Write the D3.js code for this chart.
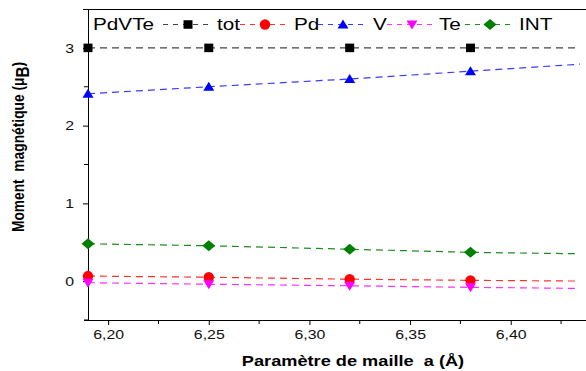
<!DOCTYPE html>
<html><head><meta charset="utf-8">
<script src="https://cdn.jsdelivr.net/npm/d3@7"></script>
<style>body{margin:0;background:#fff}svg{display:block}text{font-family:"Liberation Sans",Arial,sans-serif;white-space:pre}</style>
</head><body>
<svg id="c" width="586" height="371"></svg>
<script>
const latticeA = [6.19, 6.25, 6.32, 6.38, 6.44];
const totVals = [3.0, 3.0, 3.0, 3.0, 3.0];
const pdVals  = [0.065, 0.05, 0.025, 0.01, 0.0];
const vVals   = [2.41, 2.50, 2.60, 2.70, 2.80];
const teVals  = [-0.02, -0.04, -0.06, -0.08, -0.095];
const intVals = [0.48, 0.455, 0.41, 0.37, 0.35];
const seriesNames = ["tot", "Pd", "V", "Te", "INT"];
const xTicks = [6.20, 6.25, 6.30, 6.35, 6.40];
const yTicks = [0, 1, 2, 3];

const diamond = {draw(ctx, size){const w=6.5, h=5.5; ctx.moveTo(0,-h); ctx.lineTo(w,0); ctx.lineTo(0,h); ctx.lineTo(-w,0); ctx.closePath();}};
const triUp = {draw(ctx){const w=5.5, h=9; ctx.moveTo(0,-h*0.55); ctx.lineTo(w,h*0.45); ctx.lineTo(-w,h*0.45); ctx.closePath();}};
const triDown = {draw(ctx){const w=5.5, h=9; ctx.moveTo(0,h*0.55); ctx.lineTo(w,-h*0.45); ctx.lineTo(-w,-h*0.45); ctx.closePath();}};
const square = {draw(ctx){const s=4.5; ctx.rect(-s,-s*0.95,2*s,2*s*0.95);}};

const series = [
  {name:"tot", vals:totVals, color:"#000", line:"#444", sym:square},
  {name:"Pd", vals:pdVals, color:"#ff0000", line:"#ff3030", sym:d3.symbolCircle, size:85},
  {name:"V", vals:vVals, color:"#0000ff", line:"#3a3aff", sym:triUp},
  {name:"Te", vals:teVals, color:"#ff00ff", line:"#ff30ff", sym:triDown},
  {name:"INT", vals:intVals, color:"#008000", line:"#208a20", sym:diamond}
];

const svg = d3.select("#c");
const L = 88, T = 9, B = 320, R = 586, clipR = 580;
const x = d3.scaleLinear().domain([6.19, 6.19 + (R - L) / 2013]).range([L, R]);
const y = d3.scaleLinear().domain([-0.5, 3.5]).range([B, T]);
const SX = 1.22;

svg.append("defs").append("clipPath").attr("id","clip")
  .append("rect").attr("x", L-8).attr("y", T).attr("width", clipR - L + 8).attr("height", B - T);

// frame top
svg.append("line").attr("x1",L-5).attr("x2",R).attr("y1",T+0.5).attr("y2",T+0.5).attr("stroke","#000");

// x axis
const fmt = d => d.toFixed(2).replace(".", ",");
const xAxis = d3.axisBottom(x).tickValues(xTicks).tickFormat(fmt).tickSize(5).tickPadding(5);
const gx = svg.append("g").attr("transform",`translate(0,${B})`).call(xAxis);
gx.select(".domain").remove();
gx.append("line").attr("x1",L-4).attr("x2",R).attr("y1",0.5).attr("y2",0.5).attr("stroke","#000");
gx.selectAll(".tick text").attr("font-size",13).attr("fill","#111").each(function(){
  const t = d3.select(this); const yy = +t.attr("y");
  t.attr("y", null).attr("dy","0.71em").attr("transform", `translate(0,${yy}) scale(${SX},1)`);
});
const xMinor = [6.225, 6.275, 6.325, 6.375, 6.425];
gx.selectAll(".mn").data(xMinor).enter().append("line").attr("x1",d=>x(d)).attr("x2",d=>x(d)).attr("y1",0).attr("y2",4).attr("stroke","#000");

// y axis
const yAxis = d3.axisLeft(y).tickValues(yTicks).tickFormat(d3.format("d")).tickSize(5).tickPadding(9);
const gy = svg.append("g").attr("transform",`translate(${L},0)`).call(yAxis);
gy.select(".domain").remove();
gy.append("line").attr("x1",0.5).attr("x2",0.5).attr("y1",T).attr("y2",B).attr("stroke","#000");
gy.selectAll(".tick text").attr("font-size",13).attr("fill","#111").each(function(){
  const t = d3.select(this); const xx = +t.attr("x");
  t.attr("x", null).attr("transform", `translate(${xx},0) scale(${SX},1)`);
});
const yMinor = [-0.5, 0.5, 1.5, 2.5];
gy.selectAll(".mn").data(yMinor).enter().append("line").attr("x1",-4).attr("x2",0).attr("y1",d=>y(d)).attr("y2",d=>y(d)).attr("stroke","#000");

// titles
svg.append("text").attr("transform",`translate(353,366) scale(1.3,1)`).attr("text-anchor","middle")
  .attr("font-size",14).attr("font-weight","bold").text("Paramètre de maille  a (Å)");
const yt = svg.append("text").attr("transform","translate(24,147) rotate(-90) scale(1.02,1.23)").attr("text-anchor","middle")
  .attr("font-size",13.5).attr("font-weight","bold");
yt.append("tspan").text("Moment  magnétique (μ");
yt.append("tspan").attr("font-size",15).attr("dy",4).text("B");
yt.append("tspan").attr("dy",-4).text(")");

function symPath(s){ return d3.symbol().type(s.sym).size(s.size || 64)(); }

const plot = svg.append("g").attr("clip-path","url(#clip)");
const line = d3.line().x((d,i)=>x(latticeA[i])).y(d=>y(d));
series.forEach(s => {
  plot.append("path").attr("d", line(s.vals)).attr("fill","none").attr("stroke", s.line)
    .attr("stroke-width",1.2).attr("stroke-dasharray","7,5");
  plot.selectAll(null).data(s.vals).enter().append("path")
    .attr("transform",(d,i)=>`translate(${x(latticeA[i])},${y(d)})`)
    .attr("d", symPath(s)).attr("fill", s.color);
});

// legend
const lg = svg.append("g");
lg.append("text").attr("transform","translate(93,30) scale(1.22,1)").attr("font-size",17).text("PdVTe");
const legX = [163, 240, 318, 387, 465];
const legLabelX = [217, 294, 373, 439, 519];
series.forEach((s,i) => {
  const x0 = legX[i];
  lg.append("line").attr("x1",x0).attr("x2",x0+50).attr("y1",24.5).attr("y2",24.5)
    .attr("stroke", s.line).attr("stroke-width",1.2).attr("stroke-dasharray","5,5");
  lg.append("path").attr("transform",`translate(${x0+25},${24.5})`).attr("d", symPath(s)).attr("fill", s.color);
  lg.append("text").attr("transform",`translate(${legLabelX[i]},30) scale(1.22,1)`).attr("font-size",17).text(seriesNames[i]);
});
</script>
</body></html>
